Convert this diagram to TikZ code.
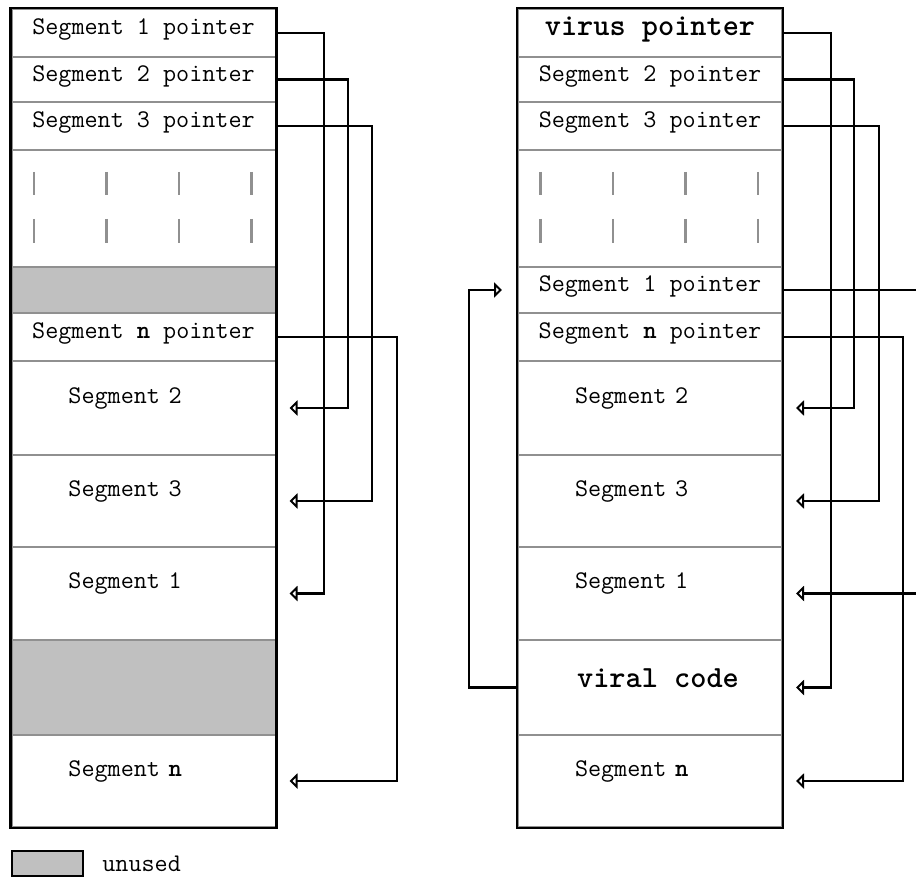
\documentclass[tikz,border=0pt]{standalone}
\usepackage{fontspec}
\usetikzlibrary{arrows.meta,positioning}
\definecolor{unused}{HTML}{C0C0C0}
\definecolor{rule}{HTML}{909090}

\begin{document}
\begin{tikzpicture}[x=0.5pt,y=-0.5pt,font=\ttfamily\fontsize{12.7}{15}\selectfont,
    every node/.style={draw=rule,line width=1pt,minimum width=132pt,inner sep=0pt},
    ptr/.style={text height=6pt,text depth=4pt},
    seg/.style={text width=75pt,align=left,text height=6pt,text depth=11pt},
    big/.style={font=\ttfamily\bfseries\fontsize{15.4}{18}\selectfont},
    free/.style={fill=unused},
    bar/.style={draw=rule,line width=1.2pt},
    frame/.style={draw=black,line width=1.4pt},
    link/.style={draw=black,line width=1.2pt,
      -{Triangle[open,length=4pt,width=7.5pt,line width=1.4pt]}}]
  \useasboundingbox (0,0) rectangle (916,877);
  \clip (0,0) rectangle (916,877);

  % original file
  \node[ptr,minimum height=24pt] (l1) at (143.5,33) {Segment 1 pointer};
  \node[ptr,minimum height=22.5pt] (l2) at (143.5,79.5) {Segment 2 pointer};
  \node[ptr,minimum height=24pt] (l3) at (143.5,126) {Segment 3 pointer};
  \node[minimum height=58.5pt] (l4) at (143.5,208.5) {};
  \node[free,minimum height=23pt] (l5) at (143.5,290) {};
  \node[ptr,minimum height=24pt] (l6) at (143.5,337) {Segment \textbf{n} pointer};
  \node[seg,minimum height=47pt] (l7) at (143.5,408) {Segment 2};
  \node[seg,minimum height=46pt] (l8) at (143.5,501) {Segment 3};
  \node[seg,minimum height=46.5pt] (l9) at (143.5,593.5) {Segment 1};
  \node[free,minimum height=47.5pt] (l10) at (143.5,687.5) {};
  \node[seg,minimum height=46pt] (l11) at (143.5,781) {Segment \textbf{n}};

  % infected file
  \node[ptr,big,text height=7pt,minimum height=24pt] (r1) at (650,33) {virus pointer};
  \node[ptr,minimum height=22.5pt] (r2) at (650,79.5) {Segment 2 pointer};
  \node[ptr,minimum height=24pt] (r3) at (650,126) {Segment 3 pointer};
  \node[minimum height=58.5pt] (r4) at (650,208.5) {};
  \node[ptr,minimum height=23pt] (r5) at (650,290) {Segment 1 pointer};
  \node[ptr,minimum height=24pt] (r6) at (650,337) {Segment \textbf{n} pointer};
  \node[seg,minimum height=47pt] (r7) at (650,408) {Segment 2};
  \node[seg,minimum height=46pt] (r8) at (650,501) {Segment 3};
  \node[seg,minimum height=46.5pt] (r9) at (650,593.5) {Segment 1};
  \node[big,text height=8pt,text depth=8pt,minimum height=47.5pt] (r10) at (650,687.5) {\hspace*{8pt}viral code};
  \node[seg,minimum height=46pt] (r11) at (650,781) {Segment \textbf{n}};

  \foreach \col in {l4,r4}
    \foreach \dx in {23.5,96,168.5,241} {
      \draw[bar] ([shift={(\dx,-36.5)}]\col.west) -- ++(0,23);
      \draw[bar] ([shift={(\dx,10.5)}]\col.west) -- ++(0,24);
    }

  \draw[frame] (l1.north west) rectangle (l11.south east);
  \draw[frame] (r1.north west) rectangle (r11.south east);

  \draw[link] (l1.east) -| ([xshift=23.75pt]l9.east) -- ([xshift=6.5pt]l9.east);
  \draw[link] (l2.east) -| ([xshift=35.75pt]l7.east) -- ([xshift=6.5pt]l7.east);
  \draw[link] (l3.east) -| ([xshift=47.75pt]l8.east) -- ([xshift=6.5pt]l8.east);
  \draw[link] (l6.east) -| ([xshift=60.25pt]l11.east) -- ([xshift=6.5pt]l11.east);

  \draw[link] (r1.east) -| ([xshift=24pt]r10.east) -- ([xshift=6.5pt]r10.east);
  \draw[link] (r2.east) -| ([xshift=35.5pt]r7.east) -- ([xshift=6.5pt]r7.east);
  \draw[link] (r3.east) -| ([xshift=48pt]r8.east) -- ([xshift=6.5pt]r8.east);
  \draw[link] (r5.east) -| ([xshift=75pt]r9.east) -- ([xshift=6.5pt]r9.east);
  \draw[link] (r6.east) -| ([xshift=60pt]r11.east) -- ([xshift=6.5pt]r11.east);
  \draw[link] (r10.west) -| ([xshift=-24pt]r5.west) -- ([xshift=-7.5pt]r5.west);

  % legend
  \node[free,frame,minimum width=35.5pt,minimum height=12.5pt] (key) at (47.5,863.5) {};
  \node[draw=none,minimum width=0pt,right=8.5pt of key] (keytext) {unused};
\end{tikzpicture}
\end{document}
